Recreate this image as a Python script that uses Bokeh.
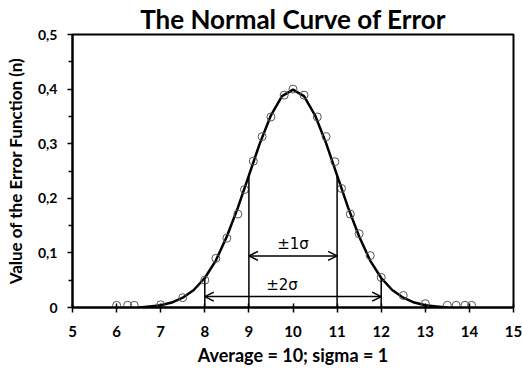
import numpy as np
from bokeh.plotting import figure
from bokeh.models import Arrow, OpenHead, Label, FixedTicker, Range1d
from bokeh.embed import file_html
from bokeh.resources import INLINE

mean = 10
sigma = 1

# smooth error-function curve, sampled at quarter steps
curve_x = [6.5, 6.75, 7.0, 7.25, 7.5, 7.75, 8.0, 8.25, 8.5, 8.75, 9.0, 9.25, 9.5,
           9.75, 10.0, 10.25, 10.5, 10.75, 11.0, 11.25, 11.5, 11.75, 12.0, 12.25,
           12.5, 12.75, 13.0, 13.25, 13.5]
curve_y = [0.0, 0.002, 0.004, 0.009, 0.018, 0.032, 0.054, 0.086, 0.130, 0.183,
           0.242, 0.301, 0.352, 0.387, 0.399, 0.387, 0.352, 0.301, 0.242, 0.183,
           0.130, 0.086, 0.054, 0.032, 0.018, 0.009, 0.004, 0.002, 0.0]

# observed points scattered along the curve
obs_x = [6.0, 6.25, 6.4, 7.0, 7.5, 8.0, 8.25, 8.5, 8.75, 8.9, 9.1, 9.3, 9.5, 9.8,
         10.0, 10.25, 10.55, 10.75, 10.95, 11.1, 11.3, 11.5, 11.75, 12.0, 12.5,
         13.0, 13.5, 13.7, 13.9, 14.05]
obs_y = [0.004, 0.004, 0.004, 0.005, 0.018, 0.05, 0.09, 0.127, 0.171, 0.216,
         0.268, 0.313, 0.349, 0.389, 0.40, 0.389, 0.349, 0.313, 0.267, 0.218,
         0.171, 0.135, 0.095, 0.055, 0.022, 0.007, 0.004, 0.004, 0.004, 0.004]

x_ticks = [5, 6, 7, 8, 9, 10, 11, 12, 13, 14, 15]
y_ticks = [0, 0.1, 0.2, 0.3, 0.4, 0.5]
y_tick_labels = ["0", "0,1", "0,2", "0,3", "0,4", "0,5"]

FONT = "Lato"

p = figure(width=522, height=369, output_backend="svg", toolbar_location=None,
           x_range=Range1d(5, 15), y_range=Range1d(0, 0.5),
           min_border_left=72, min_border_right=9, min_border_top=32,
           min_border_bottom=62)
p.background_fill_color = "white"
p.border_fill_color = "white"
p.outline_line_color = "black"
p.outline_line_width = 2
p.grid.visible = False

# title, sitting just above the frame
p.title.text = "The Normal Curve of Error"
p.title.align = "center"
p.title.text_font = FONT
p.title.text_font_style = "bold"
p.title.text_font_size = "26px"
p.title.text_line_height = 0.85
p.title.text_color = "black"
p.title.standoff = 0
p.title.offset = 0

# x axis
p.xaxis.ticker = FixedTicker(ticks=x_ticks)
p.xaxis.minor_tick_line_color = None
p.xaxis.major_tick_in = 4
p.xaxis.major_tick_out = 5
p.xaxis.axis_line_width = 2
p.xaxis.major_tick_line_width = 1.5
p.xaxis.major_label_standoff = 13
p.xaxis.major_label_text_font = FONT
p.xaxis.major_label_text_font_style = "bold"
p.xaxis.major_label_text_font_size = "15px"
p.xaxis.major_label_text_color = "black"
p.xaxis.axis_label = "Average = 10; sigma = 1"
p.xaxis.axis_label_text_font = FONT
p.xaxis.axis_label_text_font_style = "bold"
p.xaxis.axis_label_text_font_size = "18px"
p.xaxis.axis_label_text_color = "black"
p.xaxis.axis_label_standoff = 4

# y axis
p.yaxis.ticker = FixedTicker(ticks=y_ticks, minor_ticks=[0.05, 0.15, 0.25, 0.35, 0.45])
p.yaxis.major_label_overrides = {t: l for t, l in zip(y_ticks, y_tick_labels)}
p.yaxis.major_tick_in = 0
p.yaxis.major_tick_out = 5
p.yaxis.minor_tick_in = 0
p.yaxis.minor_tick_out = 4
p.yaxis.axis_line_width = 2
p.yaxis.major_tick_line_width = 1.5
p.yaxis.minor_tick_line_width = 1.5
p.yaxis.major_label_standoff = 10
p.yaxis.major_label_text_font = FONT
p.yaxis.major_label_text_font_style = "bold"
p.yaxis.major_label_text_font_size = "14px"
p.yaxis.major_label_text_color = "black"
p.yaxis.axis_label = "Value of the Error Function (n)"
p.yaxis.axis_label_text_font = FONT
p.yaxis.axis_label_text_font_style = "bold"
p.yaxis.axis_label_text_font_size = "17px"
p.yaxis.axis_label_text_color = "black"
p.yaxis.axis_label_standoff = 9

# fitted curve and observed points
p.line(curve_x, curve_y, line_color="black", line_width=2.5)
p.scatter(obs_x, obs_y, marker="circle", size=8, fill_color=None,
          line_color="#555555", line_width=1)

# vertical markers at one and two sigma
lookup = dict(zip(curve_x, curve_y))
sig_x = [mean - 2 * sigma, mean - sigma, mean + sigma, mean + 2 * sigma]
p.segment(x0=sig_x, y0=[0] * 4, x1=sig_x, y1=[lookup[x] for x in sig_x],
          line_color="black", line_width=1.5)

# span arrows
for k, ya, yl, xl in [(1, 0.0945, 0.117, mean), (2, 0.02, 0.042, mean - 0.25)]:
    p.add_layout(Arrow(x_start=mean - k * sigma, x_end=mean + k * sigma,
                       y_start=ya, y_end=ya, line_width=1.5,
                       start=OpenHead(size=9, line_width=1.5),
                       end=OpenHead(size=9, line_width=1.5)))
    p.add_layout(Label(x=xl, y=yl, text=f"±{k}σ", text_align="center",
                       text_baseline="middle", text_font="DejaVu Sans",
                       text_font_size="15px", text_color="black"))

open("out.html", "w").write(file_html(p, INLINE))
